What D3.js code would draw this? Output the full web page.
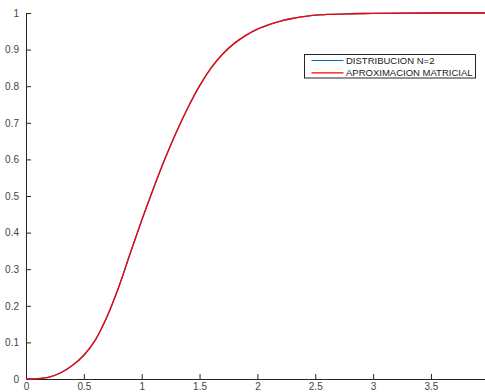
<!DOCTYPE html>
<html>
<head>
<meta charset="utf-8">
<script src="https://cdn.jsdelivr.net/npm/d3@7"></script>
<style>
  html, body { margin: 0; padding: 0; background: #fff; }
  svg { display: block; font-family: "Liberation Sans", Arial, sans-serif; }
</style>
</head>
<body>
<svg id="chart" width="485" height="392"></svg>
<script>
// Sample positions along t
const xs = [0, 0.1, 0.2, 0.3, 0.4, 0.5, 0.6, 0.7, 0.8, 0.9, 1.0, 1.1, 1.2, 1.3, 1.4, 1.5,
            1.6, 1.7, 1.8, 1.9, 2.0, 2.1, 2.2, 2.3, 2.4, 2.5, 2.6, 2.8, 3.0, 3.5, 3.97];
// Exact distribution, N = 2
const distribucion = [0, 0.001, 0.005, 0.017, 0.037, 0.065, 0.107, 0.170, 0.250, 0.342, 0.433,
                      0.519, 0.601, 0.675, 0.742, 0.801, 0.850, 0.888, 0.917, 0.939, 0.956,
                      0.968, 0.978, 0.985, 0.990, 0.994, 0.996, 0.998, 0.999, 1.0, 1.0];
// Matrix approximation
const aproximacion = [0, 0.001, 0.005, 0.017, 0.037, 0.065, 0.107, 0.170, 0.250, 0.343, 0.434,
                      0.520, 0.601, 0.675, 0.742, 0.801, 0.850, 0.888, 0.917, 0.939, 0.956,
                      0.968, 0.978, 0.985, 0.990, 0.994, 0.996, 0.998, 0.999, 1.0, 1.0];
const xTicks = [0, 0.5, 1, 1.5, 2, 2.5, 3, 3.5];
const yTicks = [0, 0.1, 0.2, 0.3, 0.4, 0.5, 0.6, 0.7, 0.8, 0.9, 1];
const seriesNames = ["DISTRIBUCION N=2", "APROXIMACION MATRICIAL"];
const seriesColors = ["#0072bd", "#ff0000"];

const svg = d3.select("#chart");
const mLeft = 26, mRight = 485, mTop = 13, mBottom = 379;

const x = d3.scaleLinear().domain([0, 3.967]).range([mLeft, mRight]);
const y = d3.scaleLinear().domain([0, 1]).range([mBottom, mTop]);

const axisColor = "#262626";
const labelColor = "#444";

// x axis (ticks pointing inward)
const gx = svg.append("g").attr("transform", `translate(0,${mBottom})`)
  .call(d3.axisBottom(x).tickValues(xTicks).tickSizeInner(-5).tickSizeOuter(0)
        .tickPadding(4).tickFormat(d3.format("~g")));
gx.select(".domain").attr("stroke", axisColor);
gx.selectAll(".tick line").attr("stroke", axisColor);
gx.selectAll(".tick text").attr("fill", labelColor).attr("font-size", 10)
  .attr("font-family", "Liberation Sans, Arial, sans-serif");

// y axis
const gy = svg.append("g").attr("transform", `translate(${mLeft},0)`)
  .call(d3.axisLeft(y).tickValues(yTicks).tickSizeInner(-5).tickSizeOuter(0)
        .tickPadding(7).tickFormat(d3.format("~g")));
gy.select(".domain").attr("stroke", axisColor);
gy.selectAll(".tick line").attr("stroke", axisColor);
gy.selectAll(".tick text").attr("fill", labelColor).attr("font-size", 10)
  .attr("font-family", "Liberation Sans, Arial, sans-serif");

const line = d3.line()
  .x((d, i) => x(xs[i]))
  .y(d => y(d))
  .curve(d3.curveMonotoneX);

[distribucion, aproximacion].forEach((vals, k) => {
  svg.append("path")
    .datum(vals)
    .attr("d", line)
    .attr("fill", "none")
    .attr("stroke", seriesColors[k])
    .attr("stroke-width", 1.3);
});

// legend
const lg = svg.append("g");
lg.append("rect").attr("x", 304.5).attr("y", 54.5).attr("width", 171).attr("height", 23.5)
  .attr("fill", "#fff").attr("stroke", axisColor).attr("stroke-width", 1);
seriesNames.forEach((name, k) => {
  const yy = 60.5 + k * 12.3;
  lg.append("line").attr("x1", 311.5).attr("x2", 343.5).attr("y1", yy).attr("y2", yy)
    .attr("stroke", seriesColors[k]).attr("stroke-width", 1.2);
  lg.append("text").attr("x", 346).attr("y", yy + 3.5).text(name)
    .attr("font-size", 9.5).attr("fill", "#1a1a1a");
});
</script>
</body>
</html>
